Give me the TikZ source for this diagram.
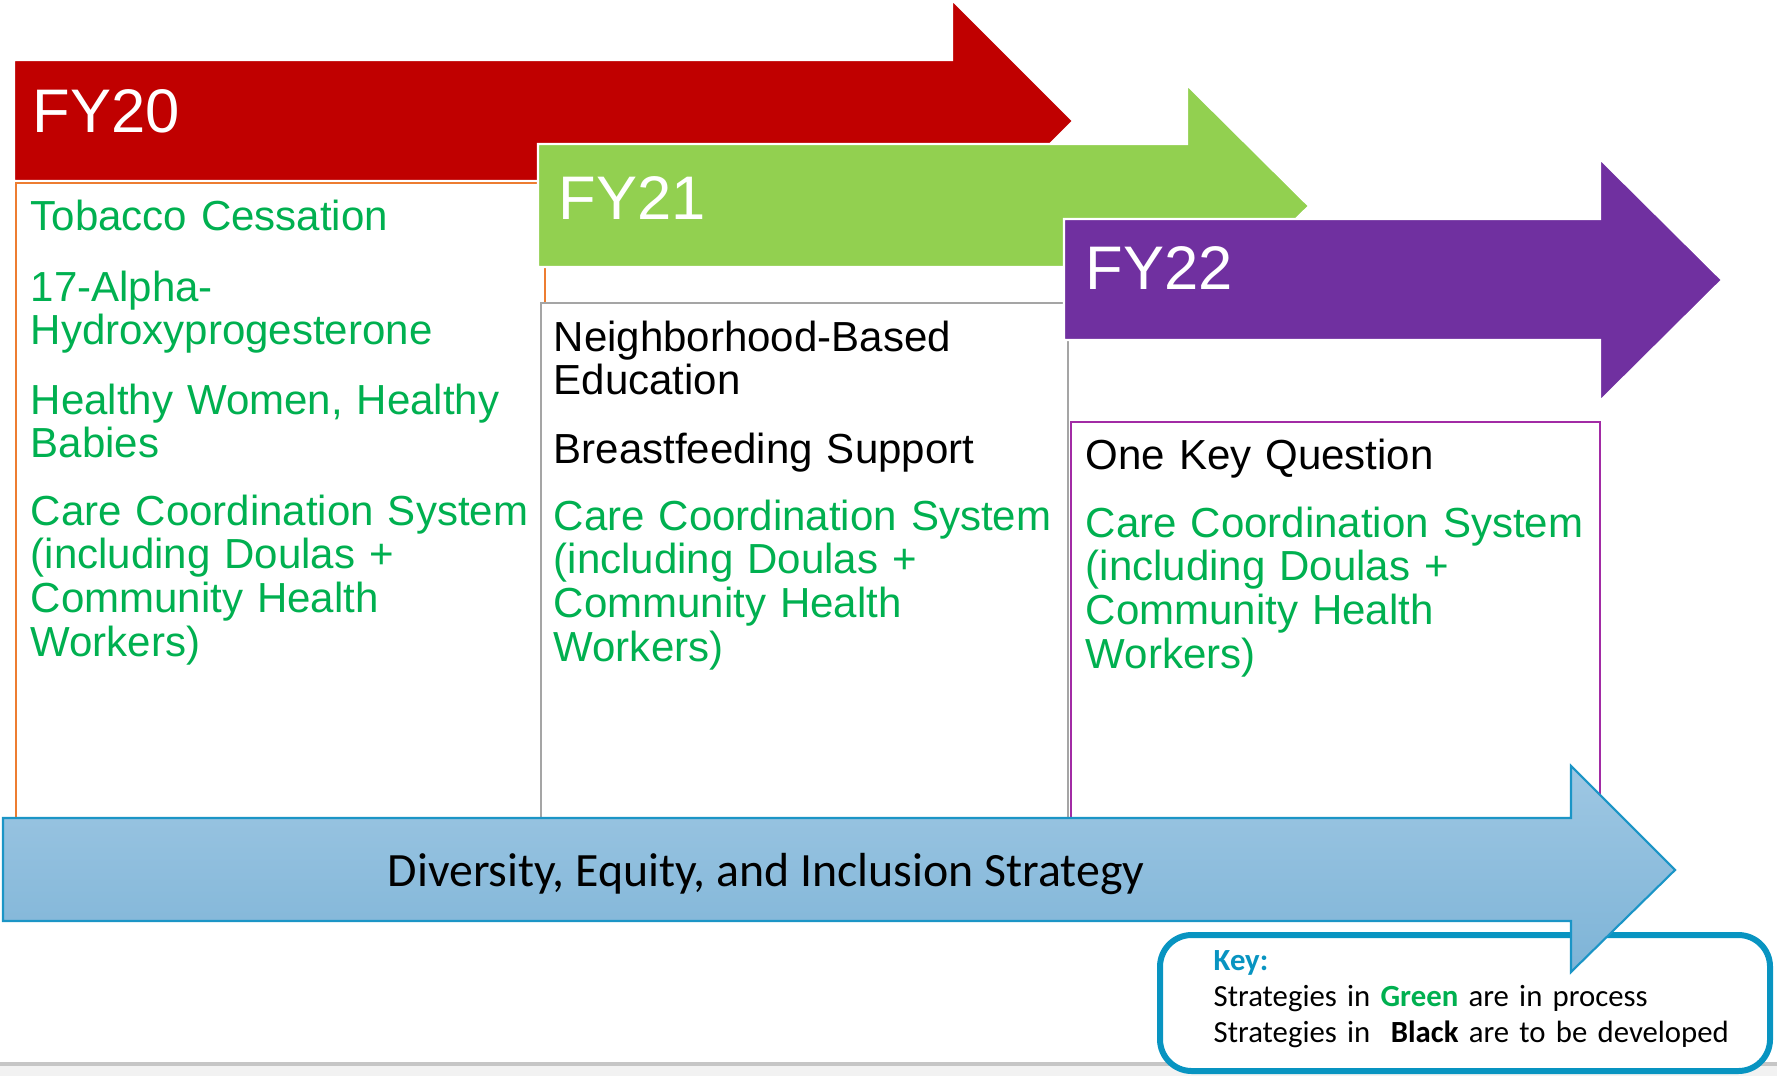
\documentclass[tikz,border=0pt]{standalone}
\usepackage{fontspec}
\setmainfont{Liberation Sans}
\newfontfamily\calibfont{Carlito}
\usetikzlibrary{calc}
\definecolor{fyred}{HTML}{C00000}
\definecolor{fygreen}{HTML}{92D050}
\definecolor{fypurple}{HTML}{7030A0}
\definecolor{txtgreen}{HTML}{00B050}
\definecolor{boxorange}{HTML}{ED7D31}
\definecolor{boxgray}{HTML}{A5A5A5}
\definecolor{boxpurple}{HTML}{A22BA5}
\definecolor{deitop}{HTML}{9EC7E3}
\definecolor{deibot}{HTML}{7EB4D7}
\definecolor{deiline}{HTML}{1B95C6}
\definecolor{keyblue}{HTML}{0894C1}

\tikzset{
  yeararrow/.style={draw=white, line width=0.6pt},
  yeartxt/.style={text=white, font=\fontsize{17.5}{20}\selectfont, inner sep=0pt, anchor=base west},
  item/.style={font=\fontsize{11.95}{12.5}\selectfont, inner sep=0pt, anchor=base west, align=left, text width=5.4cm},
  greenitem/.style={item, text=txtgreen},
  blackitem/.style={item, text=black},
  yearbox/.style={fill=white, line width=0.7pt},
}

\begin{document}
\begin{tikzpicture}[x=0.01cm, y=-0.01cm]
  \useasboundingbox (0,0) rectangle (1777,1076);

  % BOTTOM RULE
  \fill[gray!10] (0,1066) rectangle (1777,1076);
  \draw[gray!45, line width=1pt] (0,1064) -- (1777,1064);

  % FY20 ARROW AND BOX
  \fill[fyred, yeararrow] (14,60) -- (952,60) -- (952,0) -- (1073,121)
    -- (952,242) -- (952,181) -- (14,181) -- cycle;
  \node[yeartxt] (fytwenty) at (32,133) {FY20};
  \draw[boxorange, yearbox] (16,183) rectangle (545,820);
  \node[greenitem] (tobacco) at (30,230) {Tobacco Cessation};
  \node[greenitem] (alpha) at (30,301) {17-Alpha-\\Hydroxyprogesterone};
  \node[greenitem] (healthy) at (30,414) {Healthy Women, Healthy\\Babies};
  \node[greenitem] (carea) at (30,525) {Care Coordination System\\(including Doulas +\\Community Health\\Workers)};

  % FY21 ARROW AND BOX
  \fill[fygreen, yeararrow] (538,144) -- (1187,144) -- (1187,85) -- (1309,206)
    -- (1187,327) -- (1187,267) -- (538,267) -- cycle;
  \node[yeartxt] (fytwentyone) at (558,219) {FY21};
  \draw[boxgray, yearbox] (541,303) rectangle (1068,820);
  \node[blackitem] (neighbor) at (553,351) {Neighborhood-Based\\Education};
  \node[blackitem] (breast) at (553,463) {Breastfeeding Support};
  \node[greenitem] (careb) at (553,530) {Care Coordination System\\(including Doulas +\\Community Health\\Workers)};

  % FY22 ARROW AND BOX
  \fill[fypurple, yeararrow] (1064,219) -- (1600,219) -- (1600,159) -- (1722,280)
    -- (1600,401) -- (1600,340) -- (1064,340) -- cycle;
  \node[yeartxt] (fytwentytwo) at (1085,289) {FY22};
  \draw[boxpurple, yearbox] (1071,422) rectangle (1600,820);
  \node[blackitem] (onekey) at (1085,469) {One Key Question};
  \node[greenitem] (carec) at (1085,537) {Care Coordination System\\(including Doulas +\\Community Health\\Workers)};

  % KEY
  \draw[keyblue, line width=1.7pt, rounded corners=9pt, fill=white] (1160,935) rectangle (1770,1071);
  \node[anchor=base west, inner sep=0pt, align=left, text width=5.5cm,
        font=\calibfont\fontsize{8.75}{10.25}\selectfont] (keytxt) at (1213,970)
    {\textcolor{keyblue}{\textbf{Key:}}\\
     Strategies in \textcolor{txtgreen}{\textbf{Green}} are in process\\
     Strategies in\ \ \textbf{Black} are to be developed};

  % DEI ARROW
  \path[top color=deitop, bottom color=deibot, draw=deiline, line width=0.6pt]
    (3,818) -- (1571,818) -- (1571,766) -- (1675,870) -- (1571,972)
    -- (1571,921) -- (3,921) -- cycle;
  \node[anchor=base, inner sep=0pt, font=\calibfont\fontsize{13.6}{16}\selectfont] (dei) at (766,886)
    {Diversity, Equity, and Inclusion Strategy};
\end{tikzpicture}
\end{document}
